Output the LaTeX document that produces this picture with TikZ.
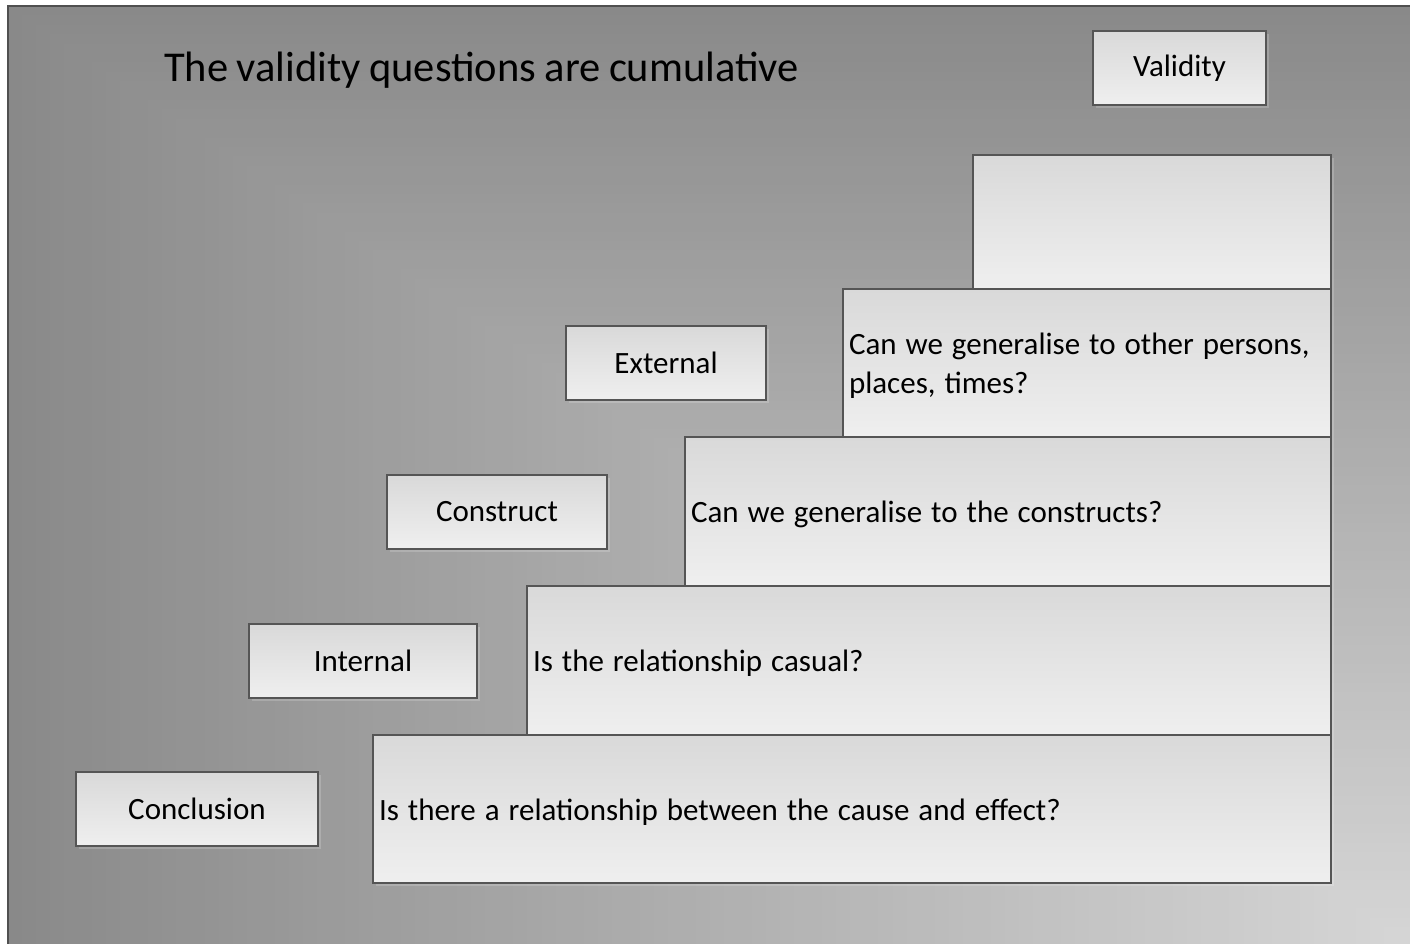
\documentclass[tikz,border=0pt]{standalone}
\usepackage{fontspec}
\setmainfont{Carlito}
\usetikzlibrary{shadows}
\definecolor{boxline}{HTML}{555555}
\definecolor{boxtop}{HTML}{D9D9D9}
\definecolor{boxbot}{HTML}{EFEFEF}
\definecolor{frame}{HTML}{505050}
\newcommand{\lblfont}{\fontsize{31}{39}\selectfont}
\newcommand{\ttlfont}{\fontsize{42.5}{50}\selectfont\spaceskip=0.2em plus 0.02em minus 0.02em\relax}
\tikzset{
  box/.style={draw=boxline, line width=1.2pt, top color=boxtop, bottom color=boxbot,
    inner sep=0pt, outer sep=0pt, anchor=north west, font=\lblfont,
    drop shadow={fill=white, opacity=0.18, shadow xshift=3pt, shadow yshift=-3pt}},
  labelbox/.style={box, align=center},
  qbox/.style={box, inner xsep=6pt, align=left,
    execute at begin node={\spaceskip=0.29em plus 0.02em minus 0.02em\relax\leavevmode\rule{0pt}{27pt}}},
}
\begin{document}
\begin{tikzpicture}[x=1pt, y=-1pt]
\useasboundingbox (0,0) rectangle (1410,944);
\fill[white] (0,0) rectangle (1410,944);
\foreach \i in {100,99,...,1}{
  \pgfmathsetmacro{\g}{0.84-0.0030*\i}
  \pgfmathsetmacro{\xa}{1412-14.04*\i}
  \pgfmathsetmacro{\ya}{946-9.40*\i}
  \definecolor{bgc}{gray}{\g}
  \fill[bgc] (\xa,\ya) rectangle (1412,946);
}
\draw[frame, line width=1.5pt] (8,946) -- (8,6) -- (1412,6);

\node[anchor=base west, inner sep=0pt, font=\ttlfont] (title) at (164,82) {The validity questions are cumulative};

\node[labelbox, minimum width=173pt, minimum height=74pt] (val) at (1093,31) {Validity};

\node[box, minimum width=358pt, minimum height=134pt] (top) at (973,155) {};
\node[qbox, text width=476pt, minimum height=148pt] (q4) at (843,289) {Can we generalise to other persons,\\places, times?};
\node[qbox, text width=634pt, minimum height=149pt] (q3) at (685,437) {Can we generalise to the constructs?};
\node[qbox, text width=792pt, minimum height=149pt] (q2) at (527,586) {Is the relationship casual?};
\node[qbox, text width=946pt, minimum height=148pt] (q1) at (373,735) {Is there a relationship between the cause and effect?};

\node[labelbox, minimum width=200pt, minimum height=74pt] (ext) at (566,326) {External};
\node[labelbox, minimum width=220pt, minimum height=74pt] (con) at (387,475) {Construct};
\node[labelbox, minimum width=228pt, minimum height=74pt] (int) at (249,624) {Internal};
\node[labelbox, minimum width=242pt, minimum height=74pt] (concl) at (76,772) {Conclusion};
\end{tikzpicture}
\end{document}
